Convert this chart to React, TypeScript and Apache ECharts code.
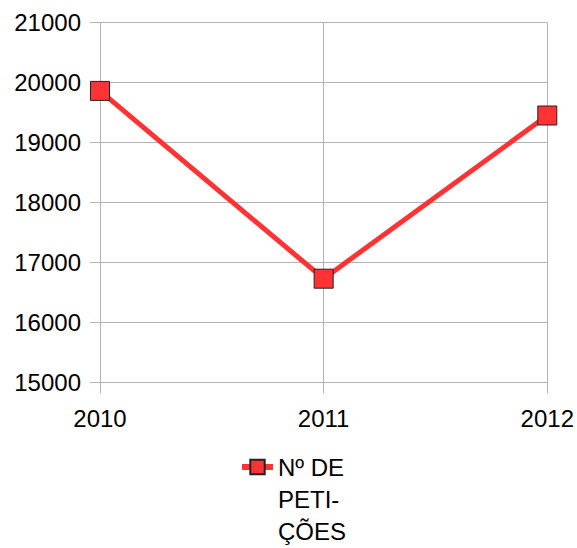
import React, { useEffect, useRef } from "react";
import * as echarts from "echarts";

const categories = ["2010", "2011", "2012"];
const seriesName = "Nº DE PETIÇÕES";
const legendLines = ["Nº DE", "PETI-", "ÇÕES"];
const values = [19860, 16730, 19450];
const yMin = 15000;
const yMax = 21000;
const yInterval = 1000;

export default function App() {
  const ref = useRef<HTMLDivElement>(null);
  useEffect(() => {
    if (!ref.current) return;
    const chart = echarts.init(ref.current, null, { renderer: "svg" });
    const font = "'Liberation Sans', Arial, sans-serif";
    const gray = "#b3b3b3";
    chart.setOption({
      animation: false,
      textStyle: { fontFamily: font },
      grid: { left: 100, right: 29.5, top: 22.5, bottom: 165.5, containLabel: false },
      xAxis: {
        type: "category",
        data: categories,
        boundaryGap: false,
        axisLine: { show: true, lineStyle: { color: gray, width: 1 } },
        axisTick: { show: true, length: 11, lineStyle: { color: gray } },
        splitLine: { show: true, lineStyle: { color: gray, width: 1 } },
        axisLabel: { color: "#000", fontSize: 24, fontFamily: font, margin: 24 },
      },
      yAxis: {
        type: "value",
        min: yMin,
        max: yMax,
        interval: yInterval,
        axisLine: { show: true, lineStyle: { color: gray, width: 1 } },
        axisTick: { show: true, length: 10, lineStyle: { color: gray } },
        splitLine: { show: true, lineStyle: { color: gray, width: 1 } },
        axisLabel: {
          color: "#000",
          fontSize: 24,
          fontFamily: font,
          margin: 19,
          formatter: (v: number) => String(v),
        },
      },
      legend: {
        data: [seriesName],
        left: 234,
        top: 382,
        itemWidth: 31,
        itemHeight: 18,
        itemGap: 6,
        lineStyle: { width: 6, color: "#ff3333" },
        formatter: () => "\n\n" + legendLines.join("\n"),
        textStyle: {
          color: "#000",
          fontSize: 24,
          fontFamily: font,
          lineHeight: 32,
        },
      },
      series: [
        {
          name: seriesName,
          type: "line",
          data: values,
          symbol: "rect",
          symbolSize: 19,
          lineStyle: { color: "#ff3333", width: 5 },
          itemStyle: { color: "#ff3333", borderColor: "#222", borderWidth: 1 },
        },
      ],
    });
    return () => chart.dispose();
  }, []);
  return <div ref={ref} style={{ width: 577, height: 548, position: "absolute", left: 0, top: 0 }} />;
}
